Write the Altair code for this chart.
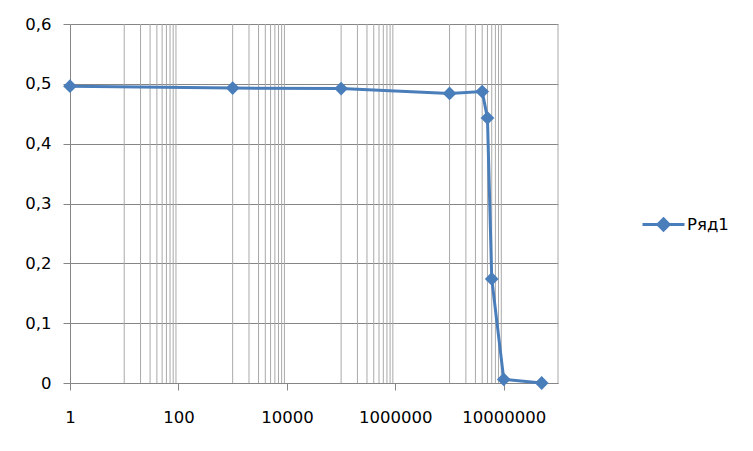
import altair as alt
import pandas as pd

# ---- data ----
x_values = [1, 1e3, 1e5, 1e7, 4e7, 5e7, 6e7, 1e8, 5e8]
y_values = [0.496, 0.493, 0.492, 0.484, 0.487, 0.443, 0.174, 0.006, 0.0]
series_name = "Ряд1"

x_major_ticks = [1, 1e2, 1e4, 1e6, 1e8]
x_tick_labels = ["1", "100", "10000", "1000000", "10000000"]
y_ticks = [0, 0.1, 0.2, 0.3, 0.4, 0.5, 0.6]
y_tick_labels = ["0", "0,1", "0,2", "0,3", "0,4", "0,5", "0,6"]

minor_multipliers = [10, 20, 30, 40, 50, 60, 70, 80, 90]
minor_bases = [1, 1e2, 1e4, 1e6]
x_grid = [m * b for b in minor_bases for m in minor_multipliers] + [1e9]

# ---- styles ----
LINE_COLOR = "#4a7ebb"
FONT = "DejaVu Sans"
FONT_SIZE = 16.5

df = pd.DataFrame({"x": x_values, "y": y_values, "series": series_name})
grid_df = pd.DataFrame({"gx": x_grid})

x_scale = alt.Scale(type="log", domain=[1, 1e9], nice=False)
y_scale = alt.Scale(domain=[0, 0.6], nice=False, zero=True)

x_label_expr = "[" + ",".join(f"'{t}'" for t in x_tick_labels) + "][round(log(datum.value)/LN10/2)]"
y_label_expr = "[" + ",".join(f"'{t}'" for t in y_tick_labels) + "][round(datum.value*10)]"

x_axis = alt.Axis(
    values=x_major_ticks,
    labelExpr=x_label_expr,
    grid=False,
    tickSize=7,
    labelPadding=19,
    labelFlush=False,
    labelOverlap=False,
)

grid = alt.Chart(grid_df).mark_rule(color="#a9a9a9", strokeWidth=1).encode(
    x=alt.X("gx:Q", scale=x_scale, axis=x_axis, title=None)
)

line = alt.Chart(df).mark_line(
    strokeWidth=3,
    color=LINE_COLOR,
    point=alt.OverlayMarkDef(shape="diamond", size=190, filled=True, opacity=1),
).encode(
    x=alt.X("x:Q", scale=x_scale, title=None, axis=x_axis),
    y=alt.Y(
        "y:Q",
        scale=y_scale,
        title=None,
        axis=alt.Axis(
            values=y_ticks,
            labelExpr=y_label_expr,
            grid=True,
            tickSize=7,
            labelPadding=12,
        ),
    ),
    color=alt.Color(
        "series:N",
        scale=alt.Scale(range=[LINE_COLOR]),
        legend=alt.Legend(
            title=None,
            orient="none",
            legendX=585,
            legendY=192,
            symbolType="M-3,0L3,0M0,-0.8L0.8,0L0,0.8L-0.8,0Z",
            symbolSize=196,
            symbolStrokeWidth=3,
            symbolFillColor=LINE_COLOR,
            symbolStrokeColor=LINE_COLOR,
            labelOffset=15,
            labelFont=FONT,
            labelFontSize=FONT_SIZE,
            labelColor="#000000",
        ),
    ),
)

chart = (
    alt.layer(grid, line)
    .properties(
        width=488,
        height=359,
        autosize=alt.AutoSizeParams(type="none"),
        padding={"left": 62, "top": 16, "right": 187, "bottom": 60},
    )
    .configure_view(stroke=None)
    .configure_axis(
        labelFont=FONT,
        labelFontSize=FONT_SIZE,
        labelColor="#000000",
        domainColor="#868686",
        tickColor="#868686",
        gridColor="#868686",
        domainWidth=1,
        tickWidth=1,
        gridWidth=1,
    )
)

chart.save("out.html", embed_options={"renderer": "svg", "actions": False})
